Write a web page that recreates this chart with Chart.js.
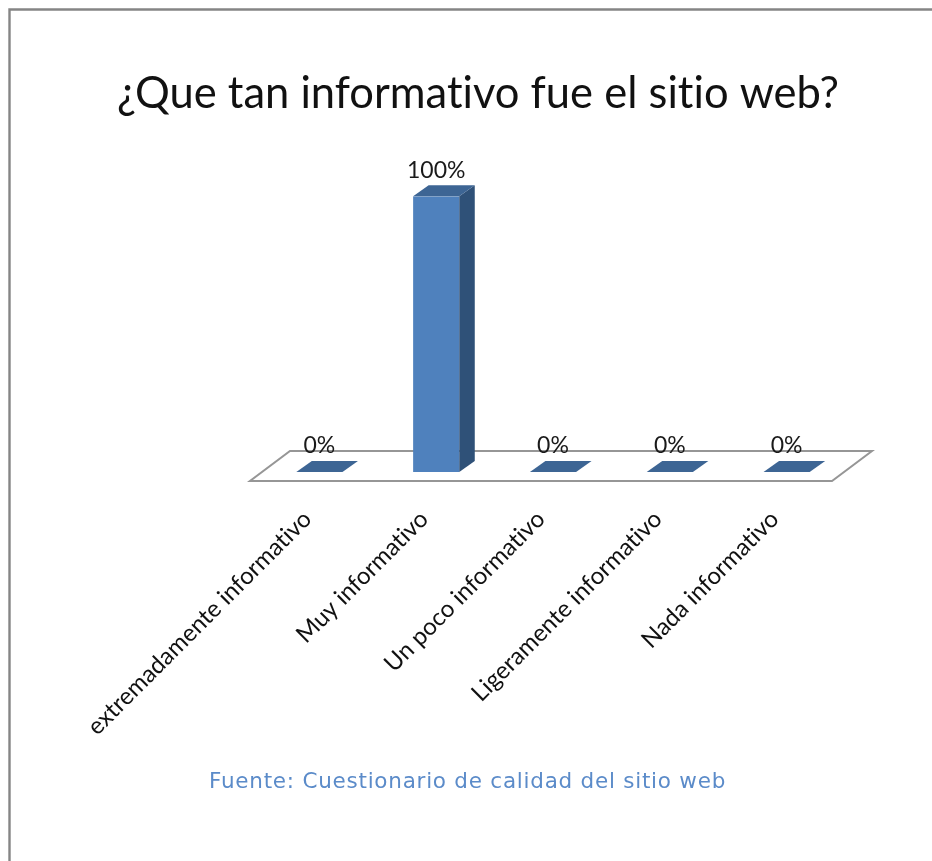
<!DOCTYPE html>
<html><head><meta charset="utf-8">
<style>html,body{margin:0;padding:0;background:#fff;overflow:hidden}#w{width:932px;height:861px;position:relative}</style>
<script src="https://cdn.jsdelivr.net/npm/chart.js@4/dist/chart.umd.min.js"></script>
</head><body><div id="w"><canvas id="c"></canvas></div>
<script>
const categories = ["extremadamente informativo","Muy informativo","Un poco informativo","Ligeramente informativo","Nada informativo"];
const values = [0,100,0,0,0];
const yTicks = [0,100];
const titleText = "¿Que tan informativo fue el sitio web?";
const sourceText = "Fuente: Cuestionario de calidad del sitio web";

const DEPTH_X = 15.5, DEPTH_Y = 11;
const poly = (ctx, pts, fill, stroke) => {
  ctx.beginPath();
  pts.forEach((p,i)=> i?ctx.lineTo(p[0],p[1]):ctx.moveTo(p[0],p[1]));
  ctx.closePath();
  if (fill){ctx.fillStyle=fill;ctx.fill();}
  if (stroke){ctx.strokeStyle=stroke;ctx.lineWidth=2;ctx.stroke();}
};
const scene = {
  id:'scene',
  beforeDraw(chart){
    const {ctx,width,height,chartArea:a} = chart;
    ctx.textRendering='optimizeSpeed';
    ctx.save();
    ctx.fillStyle='#fff';ctx.fillRect(0,0,width,height);
    ctx.strokeStyle='#858585';ctx.lineWidth=2.4;
    ctx.beginPath();ctx.moveTo(9.5,height);ctx.lineTo(9.5,9.5);ctx.lineTo(width,9.5);ctx.stroke();
    const b=a.bottom, l=a.left, r=a.right;
    poly(ctx,[[l-11,b+9],[r-13,b+9],[r+27,b-21],[l+29,b-21]],'#fff','#969696');
    ctx.restore();
  },
  afterDatasetsDraw(chart){
    const {ctx} = chart;
    const meta = chart.getDatasetMeta(0);
    ctx.save();
    meta.data.forEach((bar,i)=>{
      const L=bar.x-bar.width/2,R=bar.x+bar.width/2,T=bar.y,B=bar.base;
      poly(ctx,[[R,T],[R+DEPTH_X,T-DEPTH_Y],[R+DEPTH_X,B-DEPTH_Y],[R,B]],'#2f5178');
      poly(ctx,[[L,T],[L+DEPTH_X,T-DEPTH_Y],[R+DEPTH_X,T-DEPTH_Y],[R,T]],'#3d6594');
      ctx.fillStyle='#1a1a1a';
      ctx.font='23px Lato, sans-serif';
      ctx.textAlign='center';ctx.textBaseline='middle';
      ctx.fillText(values[i]+'%',bar.x,T-26);
    });
    ctx.fillStyle='#5b8bc9';
    ctx.font='21.5px "DejaVu Sans", sans-serif';
    ctx.letterSpacing='0.75px';
    ctx.textAlign='center';ctx.textBaseline='middle';
    ctx.fillText(sourceText,467.5,782);
    ctx.restore();
  }
};
new Chart(document.getElementById('c'),{
  type:'bar',
  data:{labels:categories,datasets:[{data:values,backgroundColor:'#4f81bd',barPercentage:0.79,categoryPercentage:0.5}]},
  plugins:[scene],
  options:{
    responsive:true,maintainAspectRatio:false,animation:false,
    layout:{padding:{left:24,right:0,top:0,bottom:0}},
    plugins:{
      legend:{display:false},tooltip:{enabled:false},
      title:{display:true,text:titleText,color:'#111',font:{family:'Lato',size:43.5,weight:'normal'},padding:{top:68,bottom:76}}
    },
    scales:{
      x:{grid:{display:false},border:{display:false},
        ticks:{minRotation:45,maxRotation:45,color:'#111',padding:25,labelOffset:-12,font:{family:'Lato',size:24}},
        afterFit(s){s.height=389;}},
      y:{min:0,max:100,grid:{display:false},border:{display:false},
        ticks:{display:false},afterFit(s){s.width=237;},
        afterBuildTicks(s){s.ticks=yTicks.map(v=>({value:v}));}},
      yr:{position:'right',min:0,max:100,grid:{display:false},border:{display:false},
        ticks:{display:false},afterFit(s){s.width=87;}}
    }
  }
});
</script></body></html>
